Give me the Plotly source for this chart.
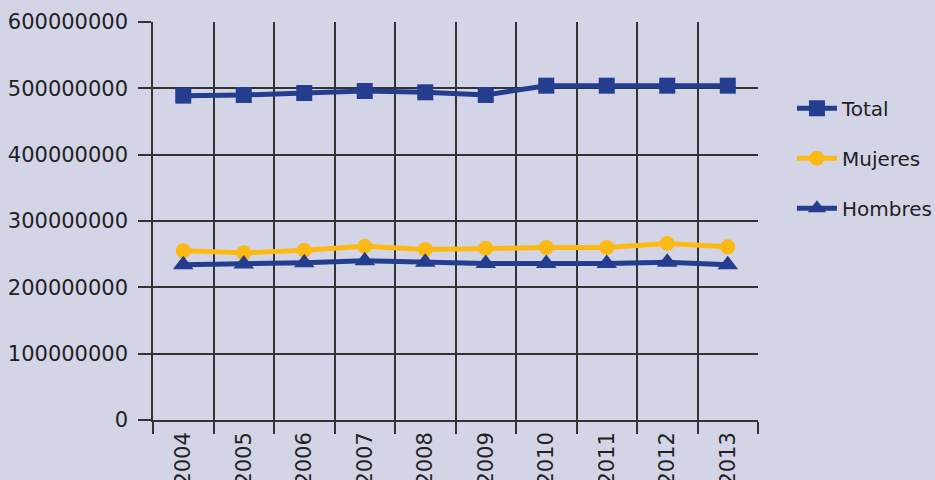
import plotly.graph_objects as go

years = ["2004", "2005", "2006", "2007", "2008", "2009", "2010", "2011", "2012", "2013"]
total = [489e6, 490e6, 493e6, 496e6, 494e6, 490e6, 504e6, 504e6, 504e6, 504e6]
mujeres = [255e6, 252e6, 256e6, 262e6, 257e6, 259e6, 260e6, 260e6, 266e6, 261e6]
hombres = [234e6, 235e6, 237e6, 240e6, 238e6, 236e6, 236e6, 236e6, 238e6, 234e6]
y_ticks = [0, 100e6, 200e6, 300e6, 400e6, 500e6, 600e6]
y_labels = ["0", "100000000", "200000000", "300000000", "400000000", "500000000", "600000000"]

navy = "#243d8e"
gold = "#fdb913"
bg = "#d4d4e7"
font = "'DejaVu Sans', sans-serif"

fig = go.Figure()
fig.add_trace(go.Scatter(x=years, y=total, name="Total", mode="lines+markers",
                         line=dict(color=navy, width=5),
                         marker=dict(symbol="square", size=16, color=navy),
                         legendgroup="a"))
fig.add_trace(go.Scatter(x=years, y=mujeres, name="Mujeres", mode="lines+markers",
                         line=dict(color=gold, width=5),
                         marker=dict(symbol="circle", size=15, color=gold),
                         legendgroup="b"))
fig.add_trace(go.Scatter(x=years, y=hombres, name="Hombres", mode="lines+markers",
                         line=dict(color=navy, width=5),
                         marker=dict(symbol="triangle-up", size=18, color=navy),
                         legendgroup="c"))

fig.update_layout(
    width=935, height=480,
    margin=dict(l=153, r=177, t=22, b=60),
    paper_bgcolor=bg, plot_bgcolor=bg,
    font=dict(family=font, color="#222222", size=20),
    legend=dict(xref="container", yref="container", x=0.847, y=0.815,
                xanchor="left", yanchor="top",
                font=dict(size=20, color="#222222"),
                bgcolor="rgba(0,0,0,0)", traceorder="grouped",
                tracegroupgap=21, itemwidth=40),
    showlegend=True,
)
fig.update_xaxes(type="category", range=[-0.5, 9.5], tickson="boundaries",
                 tickangle=-90, ticks="outside", ticklen=12, tickcolor="#333333",
                 tickwidth=1.5, showgrid=True, gridcolor="#333333", gridwidth=1.5,
                 showline=True, linecolor="#333333", linewidth=1.5, mirror=False,
                 automargin=False, tickfont=dict(size=21), ticklabelstandoff=2)
fig.update_yaxes(range=[0, 600e6], tickvals=y_ticks, ticktext=y_labels,
                 ticks="outside", ticklen=13, tickcolor="#333333", tickwidth=1.5,
                 showgrid=True, gridcolor="#333333", gridwidth=1.5,
                 showline=True, linecolor="#333333", linewidth=1.5,
                 zeroline=False, automargin=False, tickfont=dict(size=21),
                 ticklabelstandoff=6)

fig.write_html("out.html")
